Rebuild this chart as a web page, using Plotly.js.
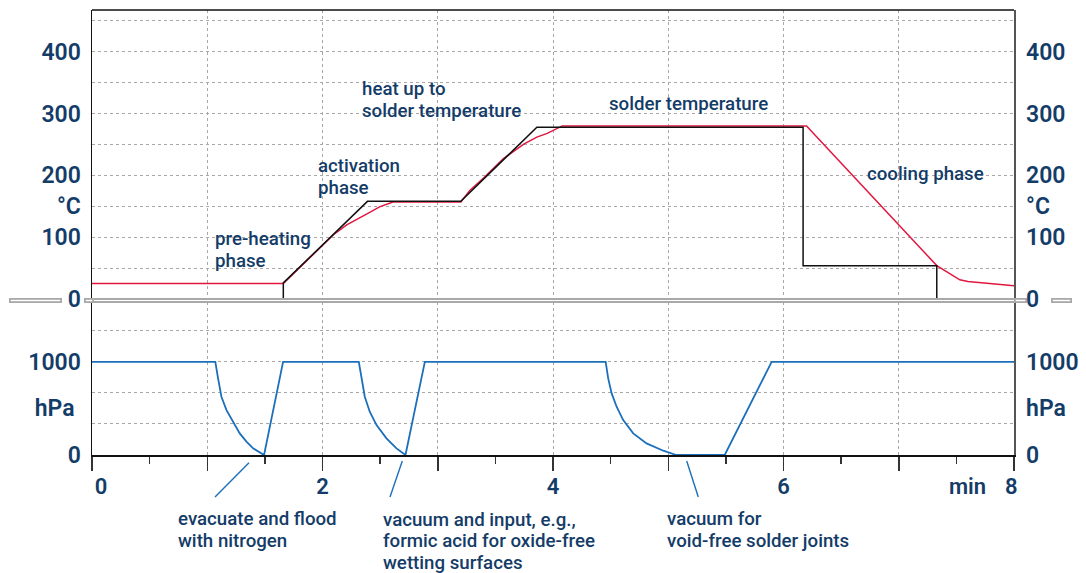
<!DOCTYPE html>
<html>
<head>
<meta charset="utf-8">
<script src="https://cdn.plot.ly/plotly-3.0.1.min.js"></script>
<style>html,body{margin:0;padding:0;background:#fff;}#chart{width:1086px;height:573px;}</style>
</head>
<body>
<div id="chart"></div>
<script>
// ---- data ----
const setpointTime = [1.66, 1.66, 2.39, 3.20, 3.86, 6.17, 6.17, 7.33, 7.33];
const setpointTemp = [0, 26, 158, 158, 278, 278, 54, 54, 0];

const actualTime = [0, 1.66, 2.095, 2.21, 2.39, 2.495, 2.61, 3.20, 3.28, 3.40, 3.57, 3.75, 3.86, 3.95, 4.08, 6.20, 7.33, 7.53, 7.60, 7.75, 8.0];
const actualTemp = [25, 25, 104, 120, 138, 149, 157, 157, 176, 196, 227, 251, 262, 268, 280, 280, 54, 31, 28.5, 26, 21.5];

const pressureTime = [0, 1.07, 1.094, 1.123, 1.167, 1.224, 1.282, 1.34, 1.398, 1.493, 1.658,
  2.315, 2.338, 2.367, 2.41, 2.469, 2.555, 2.642, 2.72, 2.888,
  4.457, 4.479, 4.509, 4.552, 4.609, 4.696, 4.812, 4.957, 5.07, 5.49, 5.897, 8];
const pressureVal = [1000, 1000, 822, 625, 482, 357, 232, 143, 71, 0, 1000,
  1000, 839, 625, 464, 321, 179, 71, 0, 1000,
  1000, 822, 661, 518, 375, 232, 125, 46, 0, 0, 1000, 1000];

const xTickVals = [0, 1, 2, 3, 4, 5, 6, 7, 8];
const xTickText = ['\u2007\u00a00', '', '2', '', '4', '', '6', '', '8\u00a0'];
const xUnitLabel = 'min';
const tempTickVals = [0, 50, 100, 150, 200, 250, 300, 350, 400, 450];
const tempTickText = ['0', '', '100', '°C', '200', '', '300', '', '400', ''];
const pressGridVals = [0, 1000/3, 2000/3, 1000, 4000/3];
const pressGridText = ['0', '', '', '1000', ''];
const pressUnitVals = [500];
const pressUnitText = ['hPa\u00a0\u00a0'];
const pressRightVals = [0, 500, 1000];
const pressRightText = ['0', 'hPa', '1000'];

const phaseLabels = [
  {lines: ['pre-heating', 'phase'], px: 213, py: 250},
  {lines: ['activation', 'phase'], px: 316, py: 177},
  {lines: ['heat up to', 'solder temperature'], px: 360, py: 100},
  {lines: ['solder temperature'], px: 607, py: 104},
  {lines: ['cooling phase'], px: 865, py: 174},
  {lines: ['evacuate and flood', 'with nitrogen'], px: 176, py: 530},
  {lines: ['vacuum and input, e.g.,', 'formic acid for oxide-free', 'wetting surfaces'], px: 381, py: 541},
  {lines: ['vacuum for', 'void-free solder joints'], px: 665, py: 530}
];
const pointers = [
  [215, 497, 249, 462.7],
  [390, 497, 402.3, 461],
  [698.3, 497, 686.7, 461]
];

// ---- layout geometry ----
const W = 1086, H = 573, ML = 92, MR = 72, MT = 10, MB = 118;
const PW = W - ML - MR, PH = H - MT - MB;
const bottomPx = H - MB;
const px2x = p => (p - ML) / PW;
const py2y = p => (bottomPx - p) / PH;
const LINE_GAP = 21.5;

const navy = '#143c68';
const red = '#e2173f';
const blue = '#1c6fbb';
const gridC = '#a8a8a8';
const breakC = '#a9a9a9';
const tickFont = {family: 'Roboto, sans-serif', size: 23, color: navy, weight: 600};
const xTickFont = {family: 'Roboto, sans-serif', size: 22, color: navy, weight: 600};
const textFont = {family: 'Roboto, sans-serif', size: 18.7, color: navy, weight: 500};

const tempTop = 467.6, pressTop = 1645;
const tempDomain = [py2y(299), 1];
const pressDomain = [0, py2y(301.7)];

const hidden = {color: 'rgba(0,0,0,0)', width: 0};
const traces = [
  {x: actualTime, y: actualTemp, xaxis: 'x', yaxis: 'y', mode: 'lines',
   line: {color: red, width: 1.5}, hoverinfo: 'skip', showlegend: false},
  {x: setpointTime, y: setpointTemp, xaxis: 'x', yaxis: 'y', mode: 'lines',
   line: {color: '#111', width: 1.5}, hoverinfo: 'skip', showlegend: false},
  {x: pressureTime, y: pressureVal, xaxis: 'x', yaxis: 'y2', mode: 'lines',
   line: {color: blue, width: 1.8}, hoverinfo: 'skip', showlegend: false},
  // invisible companions so the mirrored label axes get drawn
  {x: setpointTime, y: setpointTemp, xaxis: 'x', yaxis: 'y3', mode: 'lines',
   line: hidden, hoverinfo: 'skip', showlegend: false},
  {x: pressureTime, y: pressureVal, xaxis: 'x', yaxis: 'y4', mode: 'lines',
   line: hidden, hoverinfo: 'skip', showlegend: false},
  {x: pressureTime, y: pressureVal, xaxis: 'x', yaxis: 'y5', mode: 'lines',
   line: hidden, hoverinfo: 'skip', showlegend: false}
];

const baseY = {
  fixedrange: true, zeroline: false, ticks: '', tickfont: tickFont, tickmode: 'array', autorange: false
};

const shapes = [];
shapes.push({type: 'line', xref: 'paper', yref: 'paper', x0: 0, x1: 1, y0: 1, y1: 1,
  line: {color: '#111', width: 1.5}});
// axis break: double line across the plot
[299, 302].forEach(yy => {
  shapes.push({type: 'line', xref: 'paper', yref: 'paper', layer: 'above',
    x0: 0, x1: 1, y0: py2y(yy), y1: py2y(yy),
    line: {color: breakC, width: 1.8}});
});
pointers.forEach(p => {
  shapes.push({type: 'line', xref: 'paper', yref: 'paper',
    x0: px2x(p[0]), y0: py2y(p[1]), x1: px2x(p[2]), y1: py2y(p[3]),
    line: {color: blue, width: 1.4}});
});

const annotations = [];
// axis break continued into the margins (drawn as outlined thin boxes = double line)
const marginBreakSegs = [[9, 60], [84, 92], [1014, 1025], [1051, 1070]];
marginBreakSegs.forEach(s => {
  annotations.push({
    text: '\u00a0', xref: 'paper', yref: 'paper',
    x: px2x(s[0]), y: py2y(300.5), xanchor: 'left', yanchor: 'middle',
    width: s[1] - s[0] - 2, height: 1, borderpad: 0, borderwidth: 1.8,
    bordercolor: breakC, bgcolor: 'rgba(255,255,255,0)', showarrow: false,
    font: {size: 1, color: 'rgba(0,0,0,0)'}
  });
});
phaseLabels.forEach(l => {
  const n = l.lines.length;
  l.lines.forEach((t, i) => {
    annotations.push({
      text: t, xref: 'paper', yref: 'paper',
      x: px2x(l.px), y: py2y(l.py + (i - (n - 1) / 2) * LINE_GAP),
      xanchor: 'left', yanchor: 'middle', align: 'left', showarrow: false, font: textFont
    });
  });
});
annotations.push({text: xUnitLabel, xref: 'paper', yref: 'paper', x: px2x(967), y: py2y(486),
  xanchor: 'center', yanchor: 'middle', showarrow: false, font: xTickFont});

const layout = {
  width: W, height: H,
  margin: {l: ML, r: MR, t: MT, b: MB, pad: 0},
  paper_bgcolor: '#fff', plot_bgcolor: '#fff',
  showlegend: false,
  xaxis: {
    domain: [0, 1], range: [0, 8], anchor: 'y2', fixedrange: true,
    tickmode: 'array', tickvals: xTickVals, ticktext: xTickText,
    ticks: 'outside', ticklen: 14, tickwidth: 1.5, tickcolor: '#333',
    ticklabelstandoff: -3,
    showline: true, linecolor: '#111', linewidth: 1.5,
    showgrid: true, gridcolor: gridC, griddash: 'dot', gridwidth: 1,
    zeroline: false, tickfont: xTickFont,
    minor: {dtick: 0.5, tick0: 0, ticks: 'outside', ticklen: 7, tickwidth: 1.5, tickcolor: '#333', showgrid: false}
  },
  yaxis: Object.assign({}, baseY, {
    domain: tempDomain, range: [0, tempTop], anchor: 'x', side: 'left',
    tickvals: tempTickVals, ticktext: tempTickText,
    showgrid: true, gridcolor: gridC, griddash: 'dot', gridwidth: 1,
    showline: true, linecolor: '#111', linewidth: 1.5, ticklabelstandoff: 5
  }),
  yaxis3: Object.assign({}, baseY, {
    overlaying: 'y', range: [0, tempTop], anchor: 'x', side: 'right',
    tickvals: tempTickVals, ticktext: tempTickText,
    showgrid: false, showline: true, linecolor: '#555', linewidth: 1.5, ticklabelstandoff: 6
  }),
  yaxis2: Object.assign({}, baseY, {
    domain: pressDomain, range: [0, pressTop], anchor: 'x', side: 'left',
    tickvals: pressGridVals, ticktext: pressGridText,
    showgrid: true, gridcolor: gridC, griddash: 'dot', gridwidth: 1,
    showline: true, linecolor: '#111', linewidth: 1.5, ticklabelstandoff: 5
  }),
  yaxis4: Object.assign({}, baseY, {
    overlaying: 'y2', range: [0, pressTop], anchor: 'x', side: 'left',
    tickvals: pressUnitVals, ticktext: pressUnitText,
    showgrid: false, showline: false, ticklabelstandoff: 5
  }),
  yaxis5: Object.assign({}, baseY, {
    overlaying: 'y2', range: [0, pressTop], anchor: 'x', side: 'right',
    tickvals: pressRightVals, ticktext: pressRightText,
    showgrid: false, showline: true, linecolor: '#555', linewidth: 1.5, ticklabelstandoff: 6
  }),
  shapes: shapes,
  annotations: annotations
};

Plotly.newPlot('chart', traces, layout, {displayModeBar: false, staticPlot: true});
</script>
</body>
</html>
